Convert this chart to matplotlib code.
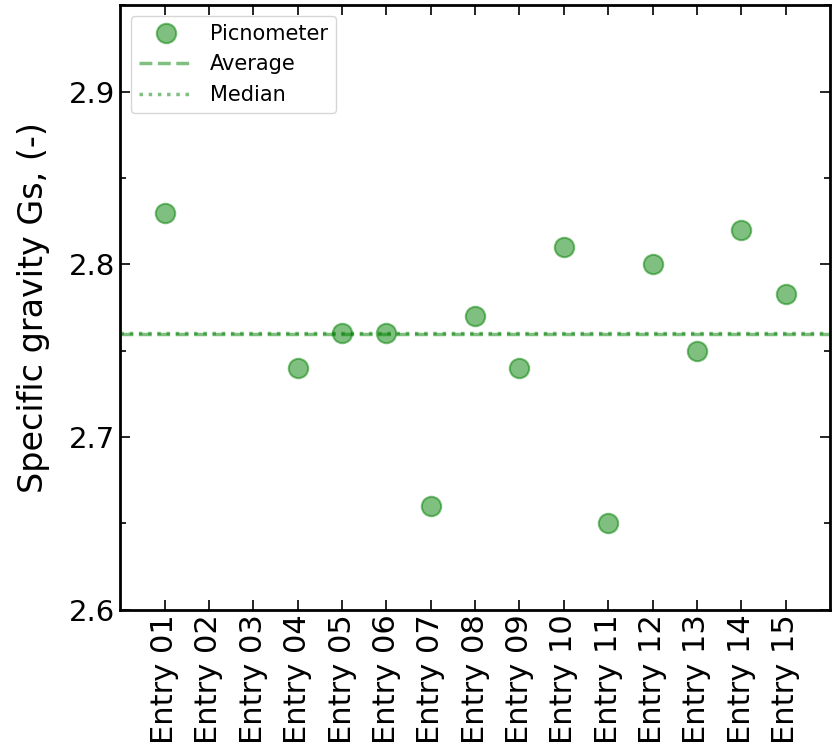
import numpy as np
import matplotlib.pyplot as plt
from matplotlib.ticker import MultipleLocator

# Specific gravity by entry (entries 02 and 03 have no picnometer reading)
entries = [f"Entry {i:02d}" for i in range(1, 16)]
gs_picnometer = [2.83, np.nan, np.nan, 2.74, 2.76, 2.76, 2.66, 2.77,
                 2.74, 2.81, 2.65, 2.80, 2.75, 2.82, 2.783]

gs = np.array(gs_picnometer, dtype=float)
gs_mean = np.nanmean(gs)
gs_median = np.nanmedian(gs)
xpos = np.arange(1, len(entries) + 1)

fig = plt.figure(figsize=(8.35, 7.5), dpi=100)
ax = fig.add_axes([0.144, 0.187, 0.85, 0.806])

ax.plot(xpos, gs, "o", color="green", alpha=0.5, ms=14, mew=1.5,
        label="Picnometer")
ax.axhline(gs_mean, color="green", alpha=0.5, lw=2.5, ls="--", label="Average")
ax.axhline(gs_median, color="green", alpha=0.5, lw=2.5, ls=":", label="Median")

ax.set_xlim(0, len(entries) + 1)
ax.set_ylim(2.6, 2.95)
ax.set_xticks(xpos)
ax.set_xticklabels(entries, rotation=90, fontsize=22)
ax.yaxis.set_major_locator(MultipleLocator(0.1))
ax.yaxis.set_minor_locator(MultipleLocator(0.05))
ax.tick_params(axis="both", which="both", direction="in", top=True, right=True,
               labelsize=21, width=1.2)
ax.tick_params(axis="x", labelsize=22)
ax.tick_params(axis="both", which="major", length=7)
ax.tick_params(axis="both", which="minor", length=4)
for s in ax.spines.values():
    s.set_linewidth(2)

ax.set_ylabel("Specific gravity Gs, (-)", fontsize=24, labelpad=14)
ax.legend(loc="upper left", fontsize=15, numpoints=1, handlelength=2.6)

fig.savefig("out.png", dpi=100)
